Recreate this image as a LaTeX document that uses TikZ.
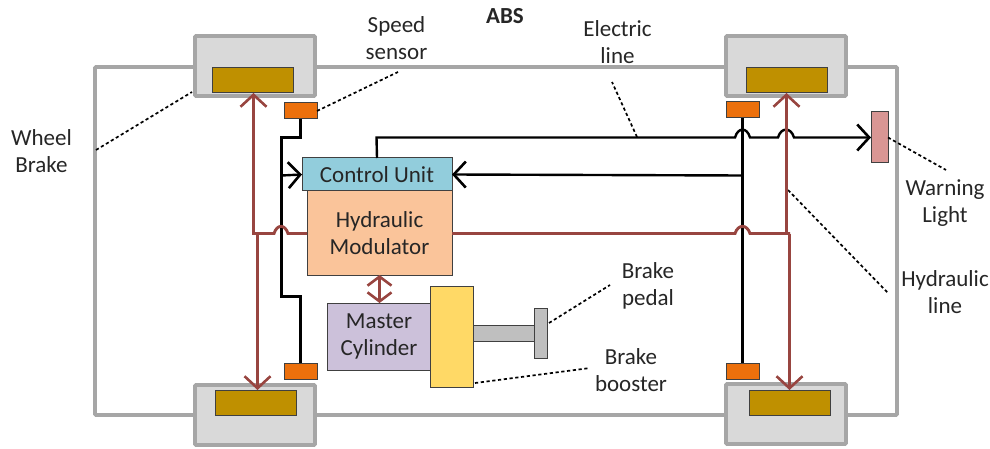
\documentclass[tikz,border=0pt]{standalone}
\usepackage{fontspec}
\setmainfont{Carlito}
\usetikzlibrary{arrows.meta,calc}
\definecolor{framegray}{HTML}{A6A6A6}
\definecolor{wheelfill}{HTML}{D9D9D9}
\definecolor{rotorfill}{HTML}{BF9000}
\definecolor{sensorfill}{HTML}{EC700C}
\definecolor{cufill}{HTML}{92CDDC}
\definecolor{hmfill}{HTML}{FAC49A}
\definecolor{mcfill}{HTML}{CCC1DA}
\definecolor{bbfill}{HTML}{FFD966}
\definecolor{rodfill}{HTML}{BFBFBF}
\definecolor{warnfill}{HTML}{D99694}
\definecolor{hydro}{HTML}{984540}
\definecolor{edgegray}{HTML}{404040}
\tikzset{
  x=1pt,y=-1pt,
  block/.style={draw=#1,anchor=north west,inner sep=0pt,outer sep=0pt,line width=1pt},
  block/.default=edgegray,
  sized/.style n args={2}{minimum width=#1pt,minimum height=#2pt},
  wheelbox/.style={draw=framegray,fill=wheelfill,line width=3.6pt,anchor=north west,inner sep=0pt,outer sep=0pt,rounded corners=1pt,minimum width=120pt,minimum height=60pt},
  rotor/.style={block,fill=rotorfill,minimum width=81pt,minimum height=25pt},
  sensor/.style={block,fill=sensorfill,minimum width=33pt,minimum height=16pt},
  label/.style={font=\fontsize{23}{27.5}\selectfont,align=center,text=black!85,inner sep=0pt},
  elec/.style={draw=black,line width=2.4pt},
  hyd/.style={draw=hydro,line width=2.9pt},
  tip/.style={-{Straight Barb[length=12pt,width=26pt,line width=2.6pt]}},
  tips/.style={{Straight Barb[length=9pt,width=24pt,line width=2.6pt]}-{Straight Barb[length=9pt,width=24pt,line width=2.6pt]}},
  leader/.style={draw=black,line width=1.7pt,dash pattern=on 3.2pt off 2.6pt},
}
\begin{document}
\begin{tikzpicture}
\useasboundingbox (0,0) rectangle (990,449);
% body frame
\draw[framegray,line width=3.6pt,rounded corners=1pt] (95,67) rectangle (897,415);
% wheels
\node[wheelbox] (wTL) at (195,36) {};
\node[wheelbox] (wTR) at (726,36) {};
\node[wheelbox] (wBL) at (195,385) {};
\node[wheelbox] (wBR) at (726,384) {};
\node[rotor] (rTL) at (212.5,68) {};
\node[rotor] (rTR) at (746,68) {};
\node[rotor] (rBL) at (215,390) {};
\node[rotor] (rBR) at (749,390) {};
\node[sensor] (sTL) at (284,103) {};
\node[sensor] (sTR) at (726,102) {};
\node[sensor] (sBL) at (284,363) {};
\node[sensor] (sBR) at (726,363) {};
% units
\node[block,fill=hmfill,sized={145}{84},label] (hm) at (307,191) {Hydraulic\\Modulator};
\node[block,fill=cufill,sized={150}{33},label] (cu) at (302,158) {Control Unit};
\node[block,fill=rodfill,sized={62}{16}] (rod) at (472,325) {};
\node[block,fill=mcfill,sized={104}{67},label] (mc) at (327,303) {Master\\Cylinder};
\node[block,fill=bbfill,sized={43}{101}] (bb) at (430,286) {};
\node[block,fill=rodfill,sized={13}{50}] (pedal) at (534,308) {};
\node[block,fill=warnfill,sized={17}{51}] (warn) at (871,112) {};
% texts
\node[label,font=\fontsize{23}{27.5}\selectfont\bfseries] (tabs) at (505,16) {ABS};
\node[label] (tspeed) at (396.5,38) {Speed\\sensor};
\node[label] (telec) at (617.5,42) {Electric\\line};
\node[label] (twheel) at (41.5,151) {Wheel\\Brake};
\node[label] (twarn) at (945,203) {Warning\\Light};
\node[label] (thyd) at (945,292) {Hydraulic\\line};
\node[label] (tpedal) at (648,286) {Brake\\pedal};
\node[label] (tboost) at (631,370) {Brake\\booster};
% free ends of leaders
\coordinate (lw1) at (96,150);   \coordinate (lw2) at (192,92);
\coordinate (ls) at (398,72);
\coordinate (le1) at (637,137);  \coordinate (le2) at (612,82);
\coordinate (lwarn) at (946,170);
\coordinate (lh1) at (788,190);  \coordinate (lh2) at (888,293);
\coordinate (lp1) at (549,323);  \coordinate (lp2) at (610,285);
\coordinate (lb1) at (475,383);  \coordinate (lb2) at (590,368);
\draw[leader] (lw1) -- (lw2);
\draw[leader] (sTL.east) -- (ls);
\draw[leader] (le1) -- (le2);
\draw[leader] (warn.east) -- (lwarn);
\draw[leader] (lh1) -- (lh2);
\draw[leader] (lp1) -- (lp2);
\draw[leader] (lb1) -- (lb2);
% electric lines
\draw[elec,line join=miter] (sTL.south) -- (300.5,137.5) -- (281.5,137.5) -- (281.5,296.5) -- (300.5,296.5) -- (sBL.north);
\draw[elec,tip] (281.5,175.5) -- (cu.west);
\draw[elec] (sTR.south) -- (sBR.north);
\draw[elec,tip] (742.5,175.5) -- (cu.east);
\draw[elec,tip] (cu.north) -- (376.5,137.5) -- (735,137.5)
  .. controls (738,127) and (747,127) .. (750,137.5) -- (778,137.5)
  .. controls (781,127) and (791,127) .. (794,137.5) -- (warn.west);
% hydraulic lines
\draw[hyd,tip] (253.5,233.5) -- (rTL.south -| 253.5,0);
\draw[hyd,tip] (257.5,233.5) -- (257.5,390);
\draw[hyd] (252,233.5) -- (274,233.5)
  .. controls (277,224) and (285,224) .. (288,233.5) -- (hm.west |- 0,233.5);
\draw[hyd] (hm.east |- 0,233.5) -- (735,233.5)
  .. controls (738,224) and (747,224) .. (750,233.5) -- (790,233.5);
\draw[hyd,tip] (786.5,233.5) -- (786.5,93);
\draw[hyd,tip] (789.5,233.5) -- (789.5,390);
\draw[hyd,tips] (hm.south -| 379.5,0) -- (mc.north -| 379.5,0);
\end{tikzpicture}
\end{document}
